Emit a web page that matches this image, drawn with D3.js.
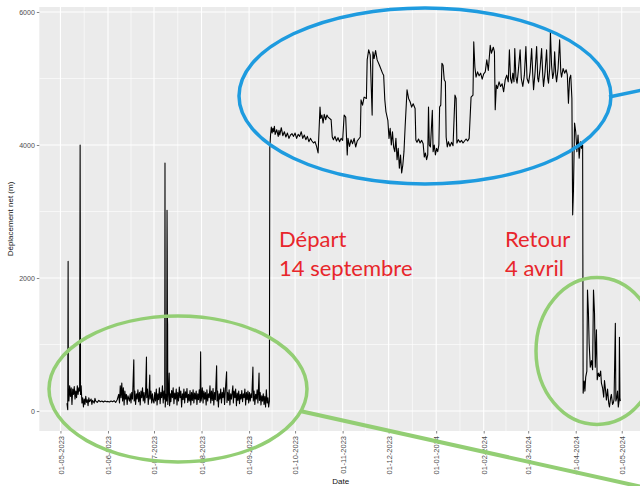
<!DOCTYPE html>
<html><head><meta charset="utf-8">
<script src="https://cdn.jsdelivr.net/npm/d3@7"></script>
<style>
html,body{margin:0;padding:0;background:#fff;}
svg{display:block;}
</style></head>
<body>
<svg id="chart" width="640" height="486"></svg>
<script>
// ---------- DATA ----------
// Before departure (station stays near the shore)
const beforeSeries = [
["2023-05-05 06",120],["2023-05-05 18",20],["2023-05-06 00",2250],["2023-05-06 04",300],["2023-05-06 12",150],
["2023-05-07 00",380],["2023-05-07 12",220],["2023-05-08 00",350],["2023-05-08 12",100],["2023-05-09 00",330],
["2023-05-09 12",250],["2023-05-10 00",370],["2023-05-10 12",180],["2023-05-11 00",300],["2023-05-11 12",200],
["2023-05-12 00",380],["2023-05-12 12",250],["2023-05-13 00",350],["2023-05-13 12",300],["2023-05-13 20",4000],
["2023-05-14 02",250],["2023-05-14 12",380],["2023-05-15 00",120],["2023-05-15 12",200],["2023-05-16 00",60],
["2023-05-16 12",180],["2023-05-17 00",100],["2023-05-17 12",220],["2023-05-18 00",130],["2023-05-18 12",170],
["2023-05-19 00",80],["2023-05-19 12",200],["2023-05-20 00",140],["2023-05-21 00",180],["2023-05-21 12",100],
["2023-05-22 00",160],["2023-05-23 00",120],["2023-05-23 12",190],["2023-05-24 00",150],["2023-05-25 00",130],
["2023-05-26 00",160],["2023-05-27 00",140],["2023-05-28 00",150],["2023-05-29 00",135],["2023-05-30 00",150],
["2023-05-31 00",140],["2023-06-01 00",145],["2023-06-02 00",135],["2023-06-03 00",150],["2023-06-04 00",140],
["2023-06-05 00",155],["2023-06-06 00",130],["2023-06-07 00",170],["2023-06-08 00",250],["2023-06-08 12",120],
["2023-06-09 00",380],["2023-06-09 12",200],["2023-06-10 00",420],["2023-06-10 12",150],["2023-06-11 00",350],
["2023-06-11 12",90],["2023-06-12 00",300],["2023-06-12 12",180],["2023-06-13 00",250],["2023-06-13 12",100],
["2023-06-14 00",230],["2023-06-15 00",150],["2023-06-15 12",260],["2023-06-16 00",120],["2023-06-16 12",280],
["2023-06-17 00",180],["2023-06-17 20",770],["2023-06-18 02",150],["2023-06-18 12",300],["2023-06-19 00",100],
["2023-06-19 12",260],["2023-06-20 00",180],["2023-06-20 12",320],["2023-06-21 00",140],["2023-06-21 12",280],
["2023-06-22 00",90],["2023-06-22 12",300],["2023-06-23 00",200],["2023-06-23 12",350],["2023-06-24 00",150],
["2023-06-24 12",280],["2023-06-25 00",120],["2023-06-25 12",260],["2023-06-26 02",810],["2023-06-26 06",200],
["2023-06-26 18",330],["2023-06-27 06",100],["2023-06-27 18",250],["2023-06-28 06",540],["2023-06-28 10",180],
["2023-06-29 00",300],["2023-06-29 12",120],["2023-06-30 00",260],["2023-06-30 12",150],["2023-07-01 00",120],
["2023-07-01 12",280],["2023-07-02 00",150],["2023-07-02 12",330],["2023-07-03 00",90],["2023-07-03 12",260],
["2023-07-04 00",170],["2023-07-04 12",350],["2023-07-05 00",110],["2023-07-05 12",280],["2023-07-06 00",200],
["2023-07-06 12",380],["2023-07-07 00",120],["2023-07-07 12",300],["2023-07-08 00",180],["2023-07-08 04",3730],
["2023-07-08 08",60],["2023-07-08 18",250],["2023-07-09 06",150],["2023-07-09 12",3020],["2023-07-09 15",2400],
["2023-07-09 18",1400],["2023-07-09 21",1300],["2023-07-10 00",100],["2023-07-10 12",300],["2023-07-10 22",570],
["2023-07-11 04",80],["2023-07-11 16",260],["2023-07-12 00",140],["2023-07-12 12",310],["2023-07-13 00",200],
["2023-07-13 12",350],["2023-07-14 00",110],["2023-07-14 12",270],["2023-07-15 00",180],["2023-07-15 12",330],
["2023-07-16 00",90],["2023-07-16 12",280],["2023-07-17 00",150],["2023-07-17 12",360],["2023-07-18 00",200],
["2023-07-18 12",300],["2023-07-19 00",60],["2023-07-19 12",260],["2023-07-20 00",170],["2023-07-20 12",330],
["2023-07-21 00",120],["2023-07-21 12",290],["2023-07-22 00",200],["2023-07-22 12",340],["2023-07-23 00",130],
["2023-07-23 12",250],["2023-07-24 00",150],["2023-07-24 12",310],["2023-07-25 00",90],["2023-07-25 12",280],
["2023-07-26 00",160],["2023-07-26 12",320],["2023-07-27 00",120],["2023-07-27 12",270],["2023-07-28 00",180],
["2023-07-28 12",300],["2023-07-29 00",100],["2023-07-29 12",260],["2023-07-30 00",170],["2023-07-30 12",320],
["2023-07-31 00",130],["2023-07-31 10",890],["2023-07-31 16",150],["2023-08-01 00",200],["2023-08-01 12",350],
["2023-08-02 00",120],["2023-08-02 12",300],["2023-08-03 00",180],["2023-08-03 12",280],["2023-08-04 00",90],
["2023-08-04 12",320],["2023-08-05 00",150],["2023-08-05 12",260],["2023-08-06 00",200],["2023-08-06 12",380],
["2023-08-07 00",120],["2023-08-07 12",300],["2023-08-08 00",160],["2023-08-08 12",340],["2023-08-09 00",90],
["2023-08-09 12",280],["2023-08-10 00",170],["2023-08-10 20",680],["2023-08-11 02",150],["2023-08-11 12",300],
["2023-08-12 00",60],["2023-08-12 12",260],["2023-08-13 00",180],["2023-08-13 12",330],["2023-08-14 00",120],
["2023-08-14 12",280],["2023-08-15 00",200],["2023-08-15 12",350],["2023-08-16 00",100],["2023-08-16 12",300],
["2023-08-17 08",590],["2023-08-17 14",130],["2023-08-18 00",280],["2023-08-18 12",160],["2023-08-19 00",320],
["2023-08-19 12",90],["2023-08-20 00",260],["2023-08-20 12",180],["2023-08-21 10",380],["2023-08-21 18",120],
["2023-08-22 06",300],["2023-08-22 18",200],["2023-08-23 06",330],["2023-08-23 18",80],["2023-08-24 06",270],
["2023-08-24 18",160],["2023-08-25 06",300],["2023-08-25 18",110],["2023-08-26 06",250],["2023-08-26 18",180],
["2023-08-27 06",310],["2023-08-27 18",140],["2023-08-28 06",260],["2023-08-28 18",200],["2023-08-29 06",330],
["2023-08-29 18",90],["2023-08-30 06",280],["2023-08-30 18",170],["2023-08-31 06",300],["2023-08-31 18",120],
["2023-09-01 06",280],["2023-09-01 18",150],["2023-09-02 06",260],["2023-09-02 18",200],["2023-09-03 12",660],
["2023-09-03 18",150],["2023-09-04 06",300],["2023-09-04 18",100],["2023-09-05 06",250],["2023-09-05 18",180],
["2023-09-06 06",320],["2023-09-06 18",120],["2023-09-07 12",570],["2023-09-07 18",160],["2023-09-08 06",280],
["2023-09-08 18",90],["2023-09-09 06",230],["2023-09-09 18",150],["2023-09-10 06",260],["2023-09-10 18",100],
["2023-09-11 06",220],["2023-09-11 18",60],["2023-09-12 06",320],["2023-09-12 18",120],["2023-09-13 06",200],
["2023-09-13 18",60],["2023-09-14 06",150]
];
// At sea (14 September -> 4 April)
const awaySeries = [
["2023-09-14 12",3950],["2023-09-15 00",4150],["2023-09-15 12",4270],["2023-09-16 00",4180],["2023-09-16 12",4250],
["2023-09-17 00",4200],["2023-09-17 12",4280],["2023-09-18 00",4160],["2023-09-19 00",4230],["2023-09-20 00",4130],
["2023-09-20 12",4220],["2023-09-21 00",4150],["2023-09-22 00",4260],["2023-09-23 00",4140],["2023-09-24 00",4200],
["2023-09-25 00",4120],["2023-09-26 00",4180],["2023-09-27 00",4100],["2023-09-28 00",4150],["2023-09-29 00",4170],
["2023-09-30 00",4130],["2023-10-01 00",4180],["2023-10-02 00",4100],["2023-10-03 00",4160],["2023-10-04 00",4130],
["2023-10-05 00",4200],["2023-10-06 00",4100],["2023-10-07 00",4150],["2023-10-08 00",4080],["2023-10-09 00",4130],
["2023-10-10 00",4050],["2023-10-11 00",4100],["2023-10-12 00",4060],["2023-10-13 00",4030],["2023-10-14 00",4050],
["2023-10-15 00",3980],["2023-10-16 00",3880],["2023-10-17 06",4570],["2023-10-17 18",4400],["2023-10-18 12",4450],
["2023-10-19 06",4330],["2023-10-20 00",4460],["2023-10-21 00",4380],["2023-10-21 18",4450],["2023-10-22 12",4420],
["2023-10-24 12",4380],["2023-10-25 06",4120],["2023-10-26 00",4080],["2023-10-27 00",4130],["2023-10-28 00",4060],
["2023-10-29 00",4110],["2023-10-30 00",4050],["2023-10-31 00",4100],["2023-11-01 00",4070],["2023-11-02 00",4450],
["2023-11-03 00",4420],["2023-11-04 00",3850],["2023-11-04 12",4100],["2023-11-05 12",3980],["2023-11-06 12",4080],
["2023-11-07 12",4020],["2023-11-08 12",4100],["2023-11-09 12",3970],["2023-11-10 12",4060],["2023-11-11 12",4090],
["2023-11-12 12",4120],["2023-11-13 00",4680],["2023-11-14 00",4600],["2023-11-15 00",4720],["2023-11-16 12",4700],
["2023-11-17 00",5280],["2023-11-18 00",5430],["2023-11-19 00",5350],["2023-11-20 06",4450],["2023-11-20 18",5400],
["2023-11-21 12",5300],["2023-11-22 12",5420],["2023-11-23 12",5280],["2023-11-25 00",5200],["2023-11-27 00",5080],
["2023-11-27 18",5050],["2023-11-28 12",4680],["2023-11-29 06",4500],["2023-11-30 12",4370],["2023-12-01 06",4100],
["2023-12-02 00",4250],["2023-12-02 18",4000],["2023-12-03 12",4200],["2023-12-04 06",3970],["2023-12-05 00",3900],
["2023-12-05 18",4100],["2023-12-06 12",3780],["2023-12-07 06",3950],["2023-12-08 00",3650],["2023-12-08 18",3850],
["2023-12-09 12",3580],["2023-12-10 06",3700],["2023-12-11 00",3900],["2023-12-11 18",4270],["2023-12-13 00",4830],
["2023-12-14 00",4700],["2023-12-15 00",4650],["2023-12-16 00",4570],["2023-12-17 00",4620],["2023-12-18 06",4550],
["2023-12-18 18",4075],["2023-12-19 12",4040],["2023-12-20 12",4090],["2023-12-21 12",4030],["2023-12-22 12",4070],
["2023-12-23 12",4020],["2023-12-24 06",3820],["2023-12-25 00",3880],["2023-12-25 18",3780],["2023-12-26 12",3850],
["2023-12-27 00",4570],["2023-12-27 12",4000],["2023-12-28 06",3970],["2023-12-29 12",4520],["2023-12-30 00",3900],
["2023-12-30 18",4000],["2023-12-31 12",3850],["2024-01-01 06",3950],["2024-01-02 00",3900],["2024-01-02 18",4000],
["2024-01-03 06",4570],["2024-01-04 00",4600],["2024-01-04 18",5230],["2024-01-05 12",5200],["2024-01-06 06",4980],
["2024-01-07 00",4950],["2024-01-07 12",4120],["2024-01-08 06",3970],["2024-01-09 00",4050],["2024-01-10 00",3980],
["2024-01-11 00",4040],["2024-01-12 00",3990],["2024-01-13 06",4750],["2024-01-14 00",4700],["2024-01-14 12",4030],
["2024-01-15 12",4080],["2024-01-16 12",4040],["2024-01-17 12",4070],["2024-01-18 12",4030],["2024-01-19 12",4060],
["2024-01-20 12",4090],["2024-01-21 12",4060],["2024-01-22 12",4100],["2024-01-23 18",4720],["2024-01-25 00",4750],
["2024-01-25 12",5550],["2024-01-26 06",5170],["2024-01-27 00",5020],["2024-01-28 00",5100],["2024-01-29 00",5040],
["2024-01-30 00",5080],["2024-01-31 00",4990],["2024-02-01 00",5070],["2024-02-02 00",5100],["2024-02-03 00",5280],
["2024-02-04 00",5120],["2024-02-05 06",5500],["2024-02-06 00",5380],["2024-02-07 06",5470],["2024-02-08 00",5400],
["2024-02-08 12",4530],["2024-02-09 06",4900],["2024-02-10 00",4850],["2024-02-11 00",4950],["2024-02-12 00",4880],
["2024-02-13 00",4920],["2024-02-14 00",4800],["2024-02-15 00",4980],["2024-02-16 00",5050],["2024-02-17 00",4950],
["2024-02-17 18",5430],["2024-02-18 12",5000],["2024-02-19 06",4930],["2024-02-20 00",5080],["2024-02-20 18",4950],
["2024-02-21 06",5450],["2024-02-22 00",5020],["2024-02-22 18",4930],["2024-02-23 12",5100],["2024-02-24 18",5430],
["2024-02-25 12",5000],["2024-02-26 12",4880],["2024-02-27 12",5050],["2024-02-28 12",5480],["2024-02-29 06",5000],
["2024-03-01 06",4930],["2024-03-02 06",5100],["2024-03-03 06",5450],["2024-03-04 00",5050],["2024-03-04 12",4830],
["2024-03-05 12",5100],["2024-03-06 12",5480],["2024-03-07 06",5000],["2024-03-07 18",4950],["2024-03-08 18",5150],
["2024-03-09 18",5450],["2024-03-10 12",5050],["2024-03-11 00",4880],["2024-03-12 00",5100],["2024-03-13 00",5430],
["2024-03-13 18",5000],["2024-03-14 06",4930],["2024-03-15 00",5150],["2024-03-15 12",5700],["2024-03-16 06",5200],
["2024-03-17 00",5000],["2024-03-17 18",5100],["2024-03-18 06",5400],["2024-03-19 00",5050],["2024-03-19 12",4950],
["2024-03-20 12",5150],["2024-03-21 12",5580],["2024-03-22 06",5100],["2024-03-22 18",5020],["2024-03-23 18",5150],
["2024-03-24 18",5080],["2024-03-25 18",5130],["2024-03-26 12",5060],["2024-03-27 06",4630],["2024-03-28 00",5000],
["2024-03-28 18",5050],["2024-03-29 12",4700],["2024-03-30 00",2950],["2024-03-30 12",3300],["2024-03-31 06",4330],
["2024-04-01 00",4200],["2024-04-01 18",3900],["2024-04-02 12",4150],["2024-04-03 06",3800],["2024-04-04 00",4050],
["2024-04-04 18",3950],["2024-04-05 12",4000]
];
// After return
const afterSeries = [
["2024-04-05 20",270],["2024-04-06 12",450],["2024-04-07 00",300],["2024-04-07 12",510],["2024-04-08 06",600],
["2024-04-08 16",1820],["2024-04-09 06",1500],["2024-04-09 18",1020],["2024-04-10 12",660],["2024-04-11 06",760],
["2024-04-12 00",620],["2024-04-12 14",1820],["2024-04-13 06",1470],["2024-04-13 18",660],["2024-04-14 12",1220],
["2024-04-15 00",470],["2024-04-15 18",570],["2024-04-16 12",520],["2024-04-17 06",600],["2024-04-17 18",420],
["2024-04-18 12",350],["2024-04-19 06",210],["2024-04-19 18",460],["2024-04-20 12",300],["2024-04-21 00",165],
["2024-04-21 18",330],["2024-04-22 12",120],["2024-04-23 00",60],["2024-04-23 18",200],["2024-04-24 06",250],
["2024-04-25 00",100],["2024-04-25 12",120],["2024-04-26 00",180],["2024-04-26 20",1320],["2024-04-27 04",150],
["2024-04-27 18",200],["2024-04-28 06",300],["2024-04-28 18",60],["2024-04-29 06",150],["2024-04-29 12",1110],
["2024-04-29 20",200],["2024-04-30 02",150]
];

const monthTicks = ["2023-05-01","2023-06-01","2023-07-01","2023-08-01","2023-09-01","2023-10-01","2023-11-01",
                    "2023-12-01","2024-01-01","2024-02-01","2024-03-01","2024-04-01","2024-05-01"];
const yTicks = [0, 2000, 4000, 6000];
const yMinorTicks = [1000, 3000, 5000];
const yLimits = [-300, 6075];
const xTitle = "Date";
const yTitle = "Déplacement net (m)";
const notes = [["Départ", "14 septembre"], ["Retour", "4 avril"]];

// ---------- LAYOUT ----------
const W = 640, H = 486;
const panel = {left: 39.3, right: 648, top: 7, bottom: 431};
const parseT = d3.timeParse("%Y-%m-%d %H");
const parseD = d3.timeParse("%Y-%m-%d");

const series = beforeSeries.concat(awaySeries, afterSeries).map(d => ({t: parseT(d[0]), v: d[1]}));
const ext = d3.extent(series, d => d.t);
const span = ext[1] - ext[0];
const x = d3.scaleTime()
  .domain([new Date(+ext[0] - 0.05 * span), new Date(+ext[1] + 0.05 * span)])
  .range([panel.left, panel.right]);
const y = d3.scaleLinear().domain(yLimits).range([panel.bottom, panel.top]);

const svg = d3.select("#chart");
svg.append("defs").append("clipPath").attr("id", "clip")
  .append("rect").attr("x", panel.left).attr("y", panel.top)
  .attr("width", panel.right - panel.left).attr("height", panel.bottom - panel.top);

svg.append("rect").attr("x", panel.left).attr("y", panel.top)
  .attr("width", panel.right - panel.left).attr("height", panel.bottom - panel.top)
  .attr("fill", "#EBEBEB");

const majorX = monthTicks.map(parseD);
const minorX = [];
for (let i = 0; i < majorX.length - 1; i++) minorX.push(new Date((+majorX[i] + +majorX[i + 1]) / 2));
minorX.push(new Date(+majorX[majorX.length - 1] + (majorX[majorX.length - 1] - majorX[majorX.length - 2]) / 2));

const grid = svg.append("g").attr("clip-path", "url(#clip)");
grid.selectAll(".ymin").data(yMinorTicks).join("line")
  .attr("x1", panel.left).attr("x2", panel.right).attr("y1", d => y(d)).attr("y2", d => y(d))
  .attr("stroke", "#fff").attr("stroke-width", 0.6);
grid.selectAll(".xmin").data(minorX).join("line")
  .attr("x1", d => x(d)).attr("x2", d => x(d)).attr("y1", panel.top).attr("y2", panel.bottom)
  .attr("stroke", "#fff").attr("stroke-width", 0.6);
grid.selectAll(".ymaj").data(yTicks).join("line")
  .attr("x1", panel.left).attr("x2", panel.right).attr("y1", d => y(d)).attr("y2", d => y(d))
  .attr("stroke", "#fff").attr("stroke-width", 1.1);
grid.selectAll(".xmaj").data(majorX).join("line")
  .attr("x1", d => x(d)).attr("x2", d => x(d)).attr("y1", panel.top).attr("y2", panel.bottom)
  .attr("stroke", "#fff").attr("stroke-width", 1.1);

// data line
svg.append("path").datum(series).attr("clip-path", "url(#clip)")
  .attr("fill", "none").attr("stroke", "#000").attr("stroke-width", 1.1)
  .attr("stroke-linejoin", "round")
  .attr("d", d3.line().x(d => x(d.t)).y(d => y(d.v)));

// axes
const fmt = d3.timeFormat("%d-%m-%Y");
const xAxis = svg.append("g").attr("transform", `translate(0,${panel.bottom})`)
  .call(d3.axisBottom(x).tickValues(majorX).tickFormat(fmt).tickSize(2.5).tickPadding(2));
xAxis.select(".domain").remove();
xAxis.selectAll(".tick line").attr("stroke", "#333").attr("stroke-width", 0.6);
xAxis.selectAll(".tick text")
  .attr("transform", "rotate(-90)").attr("text-anchor", "end")
  .attr("x", -5).attr("y", 0).attr("dy", "0.35em")
  .attr("font-family", "Liberation Sans, Arial, sans-serif").attr("font-size", 7.5).attr("fill", "#4D4D4D");

const yAxis = svg.append("g").attr("transform", `translate(${panel.left},0)`)
  .call(d3.axisLeft(y).tickValues(yTicks).tickFormat(d3.format("d")).tickSize(2.5).tickPadding(2));
yAxis.select(".domain").remove();
yAxis.selectAll(".tick line").attr("stroke", "#333").attr("stroke-width", 0.6);
yAxis.selectAll(".tick text")
  .attr("font-family", "Liberation Sans, Arial, sans-serif").attr("font-size", 7).attr("fill", "#4D4D4D");

svg.append("text").text(xTitle)
  .attr("x", (panel.left + panel.right) / 2 - 3).attr("y", 484).attr("text-anchor", "middle")
  .attr("font-family", "Liberation Sans, Arial, sans-serif").attr("font-size", 8).attr("fill", "#111");
svg.append("text").text(yTitle)
  .attr("transform", `translate(13,${(panel.top + panel.bottom) / 2}) rotate(-90)`)
  .attr("text-anchor", "middle")
  .attr("font-family", "Liberation Sans, Arial, sans-serif").attr("font-size", 8).attr("fill", "#111");

// ---------- ANNOTATIONS ----------
const blue = "#1E9BDF", green = "#93CE74", red = "#E8262B";
const ann = svg.append("g");
ann.append("line").attr("x1", 609).attr("y1", 97).attr("x2", 642).attr("y2", 90)
  .attr("stroke", blue).attr("stroke-width", 3.5);
ann.append("ellipse").attr("cx", 425).attr("cy", 96).attr("rx", 186).attr("ry", 88)
  .attr("fill", "none").attr("stroke", blue).attr("stroke-width", 3.5);
ann.append("line").attr("x1", 300).attr("y1", 411).attr("x2", 642).attr("y2", 487)
  .attr("stroke", green).attr("stroke-width", 4);
ann.append("ellipse").attr("cx", 178).attr("cy", 389).attr("rx", 129).attr("ry", 73)
  .attr("fill", "none").attr("stroke", green).attr("stroke-width", 3.5);
ann.append("ellipse").attr("cx", 597).attr("cy", 351).attr("rx", 61).attr("ry", 73.5)
  .attr("fill", "none").attr("stroke", green).attr("stroke-width", 3.5);

const notePos = [[279, 247], [505, 247]];
notes.forEach((lines, i) => {
  lines.forEach((s, j) => {
    ann.append("text").text(s)
      .attr("x", notePos[i][0]).attr("y", notePos[i][1] + j * 28.5)
      .attr("font-family", "Lato, 'Open Sans', sans-serif").attr("font-size", 22)
      .attr("fill", red);
  });
});
</script>
</body></html>
